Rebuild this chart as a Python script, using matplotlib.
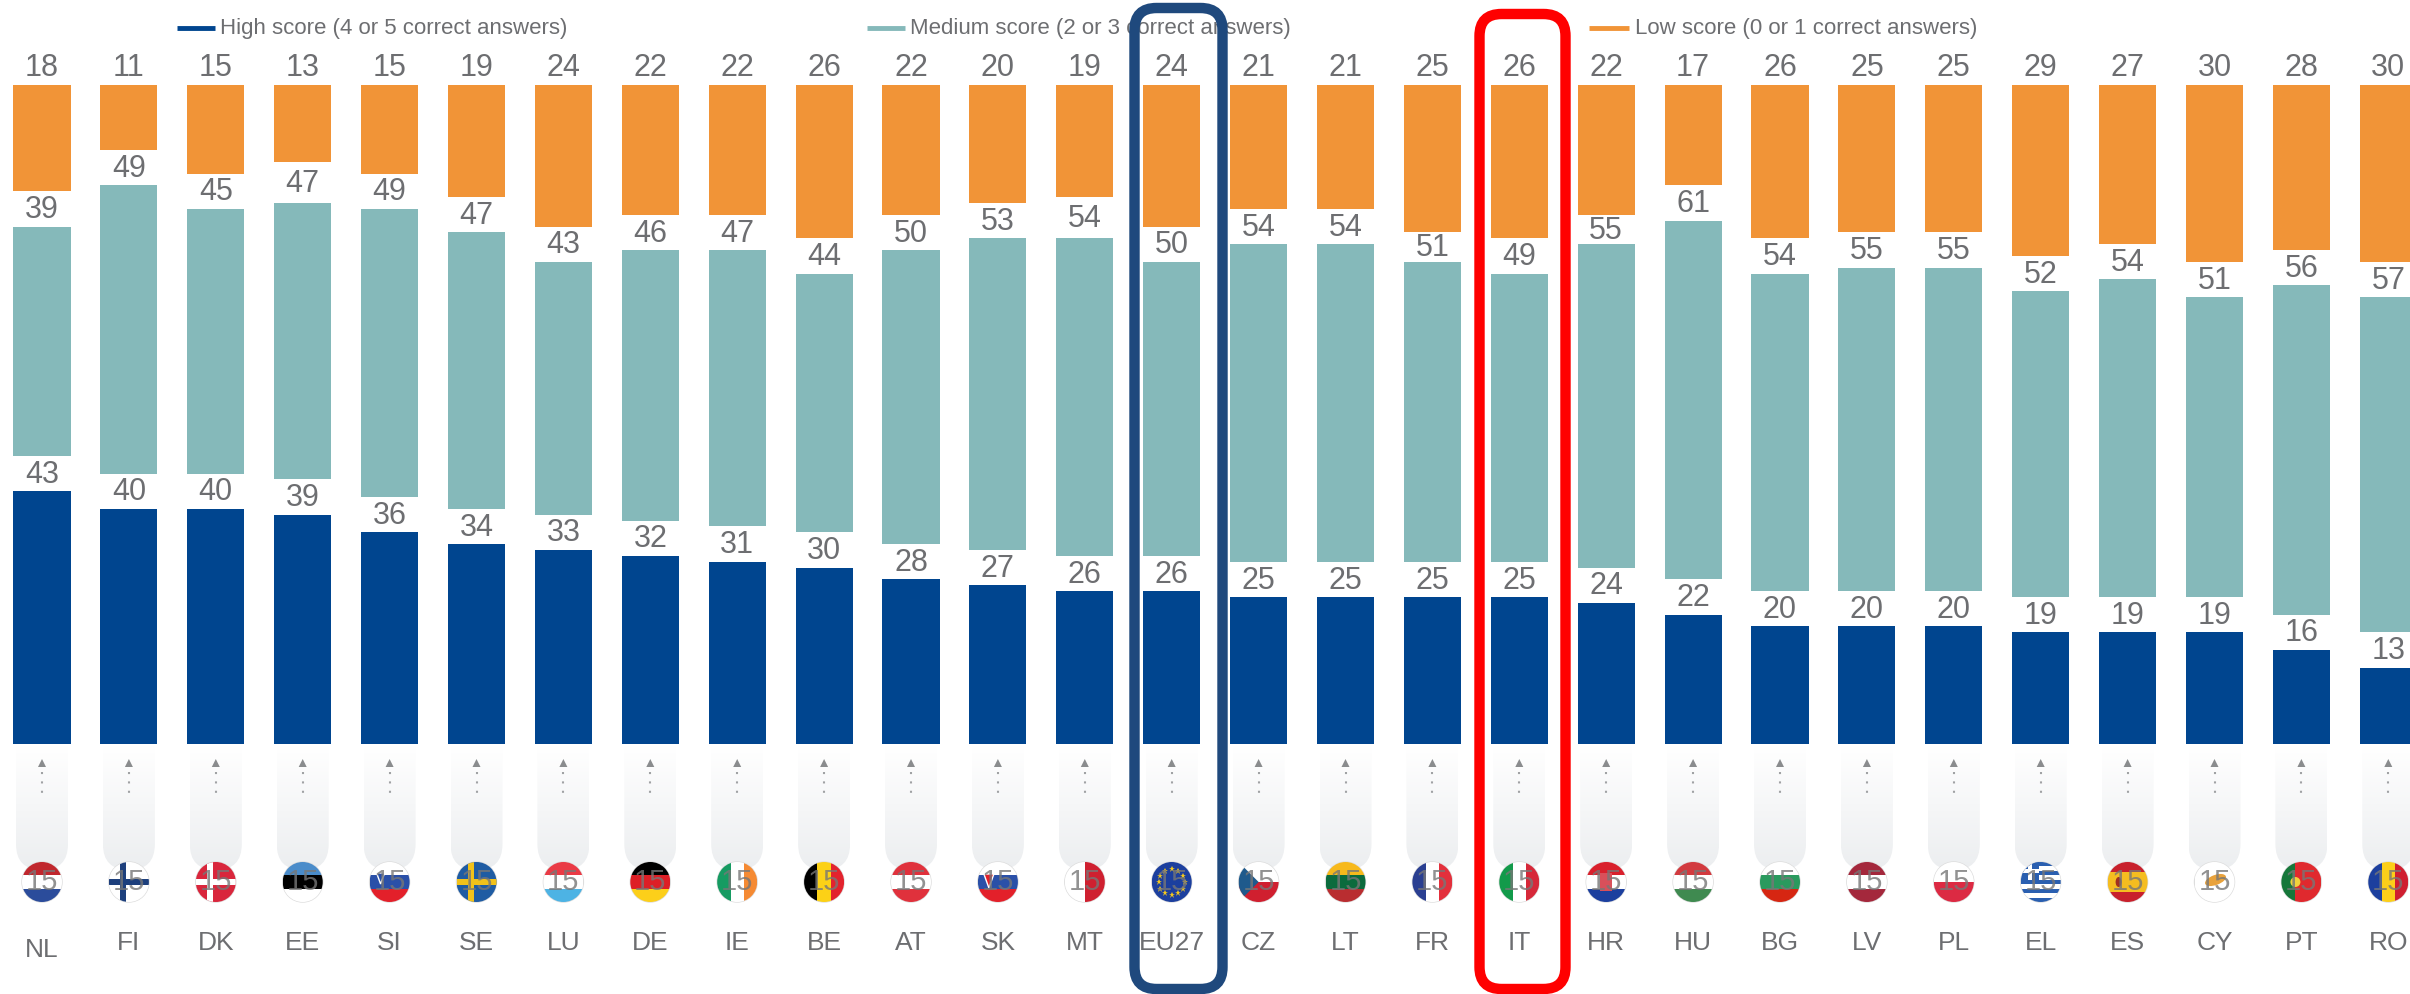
import numpy as np
import matplotlib

matplotlib.use('Agg')
import matplotlib.pyplot as plt
from matplotlib.colors import LinearSegmentedColormap
from matplotlib.patches import Circle, Ellipse, FancyBboxPatch, Polygon, Rectangle

countries = ['NL', 'FI', 'DK', 'EE', 'SI', 'SE', 'LU', 'DE', 'IE', 'BE', 'AT', 'SK', 'MT', 'EU27',
             'CZ', 'LT', 'FR', 'IT', 'HR', 'HU', 'BG', 'LV', 'PL', 'EL', 'ES', 'CY', 'PT', 'RO']
high = [43, 40, 40, 39, 36, 34, 33, 32, 31, 30, 28, 27, 26, 26,
        25, 25, 25, 25, 24, 22, 20, 20, 20, 19, 19, 19, 16, 13]
medium = [39, 49, 45, 47, 49, 47, 43, 46, 47, 44, 50, 53, 54, 50,
          54, 54, 51, 49, 55, 61, 54, 55, 55, 52, 54, 51, 56, 57]
low = [18, 11, 15, 13, 15, 19, 24, 22, 22, 26, 22, 20, 19, 24,
       21, 21, 25, 26, 22, 17, 26, 25, 25, 29, 27, 30, 28, 30]
legend_labels = ['High score (4 or 5 correct answers)',
                 'Medium score (2 or 3 correct answers)',
                 'Low score (0 or 1 correct answers)']

# flag stripes: (direction, colours)
flags = {
    'NL': ('h', ['#c0272d', '#ffffff', '#2b4c9b']), 'FI': ('x', ['#ffffff', '#1d3f7c']),
    'DK': ('x', ['#d9263c', '#ffffff']), 'EE': ('h', ['#4a8cca', '#000000', '#ffffff']),
    'SI': ('h', ['#ffffff', '#2a50a8', '#e3202a']), 'SE': ('x', ['#1f5ca3', '#f2c21a']),
    'LU': ('h', ['#ea3a45', '#ffffff', '#4db3e4']), 'DE': ('h', ['#000000', '#dd1f26', '#fccf1a']),
    'IE': ('v', ['#169b62', '#ffffff', '#f58a33']), 'BE': ('v', ['#000000', '#fcd116', '#e2232e']),
    'AT': ('h', ['#e0313c', '#ffffff', '#e0313c']), 'SK': ('h', ['#ffffff', '#2a50a8', '#e3202a']),
    'MT': ('v', ['#ffffff', '#cf2030']), 'EU27': ('h', ['#1c3f9e']),
    'CZ': ('h', ['#ffffff', '#d01f2f']), 'LT': ('h', ['#f7b91c', '#0b6b3d', '#b92d30']),
    'FR': ('v', ['#2a3f91', '#ffffff', '#e3303c']), 'IT': ('v', ['#129a4a', '#ffffff', '#d62839']),
    'HR': ('h', ['#d9202c', '#ffffff', '#1c3f9e']), 'HU': ('h', ['#d23a3f', '#ffffff', '#3f8a50']),
    'BG': ('h', ['#ffffff', '#2a9a5e', '#d62612']), 'LV': ('h', ['#a4283c', '#ffffff', '#a4283c']),
    'PL': ('h', ['#ffffff', '#dc2a43']),
    'EL': ('h', ['#2a5fb0', '#ffffff', '#2a5fb0', '#ffffff', '#2a5fb0', '#ffffff', '#2a5fb0', '#ffffff', '#2a5fb0']),
    'ES': ('h', ['#c8202c', '#f5bd20', '#f5bd20', '#c8202c']), 'CY': ('h', ['#ffffff']),
    'PT': ('v', ['#16773a', '#e0292e', '#e0292e']), 'RO': ('v', ['#1c3f9e', '#fccf1a', '#cf1f30']),
}

plt.rcParams['font.family'] = ['Liberation Sans', 'DejaVu Sans']

W, H = 2410, 994
BLUE = '#00458f'
TEAL = '#85b9ba'
ORANGE = '#f19437'
GREY = '#6d6e71'
X0, STEP = 42, 86.9
BASE, PX = 744, 5.88
GAP = 6
TOP = 100 + 2 * GAP

fig = plt.figure(figsize=(W / 100, H / 100), dpi=100, facecolor='white')
ax = fig.add_axes([0, 0, 1, 1])
ax.set_xlim(-X0 / STEP, (W - X0) / STEP)
ax.set_ylim(-(H - BASE) / PX, BASE / PX)
ax.axis('off')

x = np.arange(len(countries))
high_a, med_a, low_a = np.array(high), np.array(medium), np.array(low)
med_b = high_a + GAP
low_b = TOP - low_a  # orange hangs from a common top line
ax.bar(x, high_a, width=0.656, color=BLUE, zorder=2)
ax.bar(x, med_a, bottom=med_b, width=0.656, color=TEAL, zorder=2)
ax.bar(x, low_a, bottom=low_b, width=0.656, color=ORANGE, zorder=2)

for i in x:
    ax.text(i, high[i] + GAP / 2 - 0.2, str(high[i]), ha='center', va='center', fontsize=22, color=GREY)
    # midway between the teal top and the orange bottom, rounding makes that gap vary
    ax.text(i, (med_b[i] + medium[i] + low_b[i]) / 2 - 0.2, str(medium[i]), ha='center', va='center',
            fontsize=22, color=GREY)
    ax.text(i, TOP + 3.0, str(low[i]), ha='center', va='center', fontsize=22, color=GREY)

# everything below the bars and the frames is placed in pixels
ov = fig.add_axes([0, 0, 1, 1], facecolor='none')
ov.set_xlim(0, W)
ov.set_ylim(H, 0)
ov.axis('off')

grad = np.linspace(0, 1, 64).reshape(-1, 1)
cap_cmap = LinearSegmentedColormap.from_list('cap', ['#ffffff', '#eceef0'])
for i, code in enumerate(countries):
    cx = X0 + STEP * i
    capsule = FancyBboxPatch((cx - 26, 690), 52, 180, boxstyle='round,pad=0,rounding_size=26',
                             fc='none', ec='none')
    ov.add_patch(capsule)
    im = ov.imshow(grad, extent=(cx - 26, cx + 26, 870, 745), cmap=cap_cmap, aspect='auto', zorder=1)
    im.set_clip_path(capsule)
    ov.add_patch(Polygon([(cx - 4, 767), (cx + 4, 767), (cx, 759)], fc='#8a8c8e', ec='none', zorder=2))
    ov.plot([cx, cx], [772, 798], color='#a0a2a4', lw=1.5, ls=(0, (1, 3.5)), zorder=2)

    cy, r = 882, 20
    circ = Circle((cx, cy), r, fc='white', ec='#dddddd', lw=1, zorder=3)
    ov.add_patch(circ)
    kind, cols = flags[code]
    if kind == 'h':
        h = 2 * r / len(cols)
        parts = [Rectangle((cx - r, cy - r + k * h), 2 * r, h, fc=c, ec='none', zorder=3) for k, c in enumerate(cols)]
    elif kind == 'v':
        w = 2 * r / len(cols)
        parts = [Rectangle((cx - r + k * w, cy - r), w, 2 * r, fc=c, ec='none', zorder=3) for k, c in enumerate(cols)]
    else:
        parts = [Rectangle((cx - r, cy - r), 2 * r, 2 * r, fc=cols[0], ec='none', zorder=3),
                 Rectangle((cx - r, cy - 3), 2 * r, 6, fc=cols[1], ec='none', zorder=3),
                 Rectangle((cx - 9, cy - r), 6, 2 * r, fc=cols[1], ec='none', zorder=3)]
    # small emblems for the flags that are more than stripes
    if code == 'CZ':
        parts.append(Polygon([(cx - r, cy - r), (cx, cy), (cx - r, cy + r)], fc='#1f5a8c', ec='none', zorder=3))
    elif code == 'EL':
        parts.append(Rectangle((cx - r, cy - r), 18, 18, fc='#2a5fb0', ec='none', zorder=3))
        parts.append(Rectangle((cx - r, cy - r + 7), 18, 4, fc='#ffffff', ec='none', zorder=3))
        parts.append(Rectangle((cx - r + 7, cy - r), 4, 18, fc='#ffffff', ec='none', zorder=3))
    elif code == 'HR':
        parts.append(Rectangle((cx - 6, cy - 9), 12, 18, fc='#d9505a', ec='none', zorder=3))
    elif code == 'CY':
        parts.append(Ellipse((cx + 1, cy - 2), 22, 10, angle=-20, fc='#e8a23c', ec='none', zorder=3))
    elif code == 'PT':
        parts.append(Circle((cx - 6, cy), 5, fc='#f2d23c', ec='none', zorder=3))
    elif code == 'ES':
        parts.append(Ellipse((cx - 9, cy), 6, 10, fc='#a03020', ec='none', zorder=3))
    elif code == 'SI':
        parts.append(Polygon([(cx - 13, cy - 9), (cx - 5, cy - 9), (cx - 9, cy + 2)], fc='#2a50a8', ec='#ffffff', lw=1, zorder=3))
    elif code == 'SK':
        parts.append(Polygon([(cx - 14, cy - 8), (cx - 4, cy - 8), (cx - 9, cy + 6)], fc='#e3202a', ec='#ffffff', lw=1, zorder=3))
    for p in parts:
        ov.add_patch(p)
        p.set_clip_path(circ)
    if code == 'EU27':
        for ang in np.deg2rad(np.arange(0, 360, 30)):
            ov.plot(cx + 13 * np.cos(ang), cy + 13 * np.sin(ang), marker='*', ms=4.5, color='#f3c81e', mew=0, zorder=3)
    ov.text(cx, cy, '15', ha='center', va='center', fontsize=21, color='#777777', alpha=0.8, zorder=4)
    ty = 950 if code == 'NL' else 943
    ov.text(cx, ty, code, ha='center', va='center', fontsize=19, color=GREY, zorder=4)

# legend
for (x1, x2, tx), c, label in zip([(177, 215, 220), (867, 905, 910), (1589, 1629, 1635)],
                                  [BLUE, TEAL, ORANGE], legend_labels):
    ov.plot([x1, x2], [28, 28], color=c, lw=3.5, solid_capstyle='butt', zorder=2)
    ov.text(tx, 28.5, label, ha='left', va='center', fontsize=16, color=GREY, zorder=2)

# highlight frames
ov.add_patch(FancyBboxPatch((1134.5, 8), 88, 981, boxstyle='round,pad=0,rounding_size=22',
                            fc='none', ec='#1f497d', lw=7.5, zorder=6))
ov.add_patch(FancyBboxPatch((1479.5, 14), 86, 975, boxstyle='round,pad=0,rounding_size=22',
                            fc='none', ec='#ff0000', lw=7.5, zorder=6))
ov.set_xlim(0, W)
ov.set_ylim(H, 0)

plt.savefig('out.png', dpi=100)
plt.close()
